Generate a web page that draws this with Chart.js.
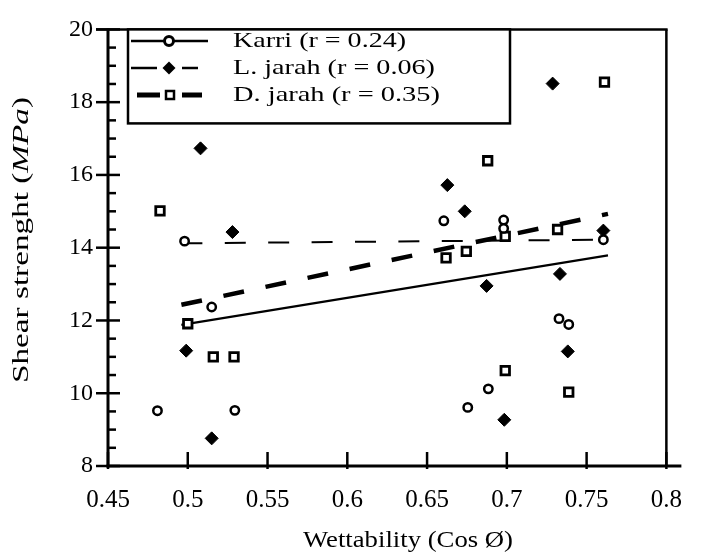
<!DOCTYPE html>
<html>
<head>
<meta charset="utf-8">
<script src="https://cdn.jsdelivr.net/npm/chart.js@4/dist/chart.umd.min.js"></script>
<style>
  html, body { margin: 0; padding: 0; background: #fff; }
  #wrap { width: 701px; height: 558px; position: relative; }
</style>
</head>
<body>
<div id="wrap"><canvas id="c" width="701" height="558"></canvas></div>
<script>
// ---- data ----
const karriX  = [0.481, 0.498, 0.515, 0.5295, 0.6605, 0.6755, 0.6884, 0.698, 0.698, 0.7327, 0.7388, 0.7605];
const karriY  = [9.52, 14.18, 12.37, 9.53, 14.74, 9.61, 10.12, 14.76, 14.53, 12.05, 11.89, 14.22];

const lJarahX = [0.499, 0.508, 0.515, 0.528, 0.6627, 0.6736, 0.6873, 0.6984, 0.7287, 0.7333, 0.7382, 0.7605];
const lJarahY = [11.17, 16.73, 8.76, 14.43, 15.72, 15.0, 12.95, 9.27, 18.51, 13.28, 11.15, 14.47];

const dJarahX = [0.4826, 0.5, 0.516, 0.529, 0.6619, 0.6746, 0.688, 0.699, 0.699, 0.7318, 0.7388, 0.7612];
const dJarahY = [15.01, 11.91, 11.0, 11.0, 13.72, 13.9, 16.39, 10.62, 14.31, 14.5, 10.03, 18.55];

// regression lines (end points)
const fitX       = [0.496, 0.7634];
const karriFitY  = [11.88, 13.79];
const lJarahFitY = [14.12, 14.22];
const dJarahFitY = [12.43, 14.93];

const seriesNames = ['Karri (r = 0.24)', 'L. jarah (r = 0.06)', 'D. jarah (r = 0.35)'];

const xTicks      = [0.45, 0.5, 0.55, 0.6, 0.65, 0.7, 0.75, 0.8];
const xTickLabels = ['0.45', '0.5', '0.55', '0.6', '0.65', '0.7', '0.75', '0.8'];
const yTicks      = [8, 10, 12, 14, 16, 18, 20];
const yTickLabels = ['8', '10', '12', '14', '16', '18', '20'];
const yMinorStep  = 0.5;

const xTitle = 'Wettability (Cos Ø)';
const yTitleParts = ['Shear strenght (', 'MPa', ')'];

// ---- helpers ----
const zip = (xs, ys) => xs.map((x, i) => ({ x: x, y: ys[i] }));
const FONT = '"Liberation Serif", "Times New Roman", serif';

function drawFitted(ctx, parts, targetW, align) {
  // parts: [{t, f}] ; draws at current origin, baseline middle, horizontally scaled to targetW
  let natural = 0;
  parts.forEach(p => { ctx.font = p.f; natural += ctx.measureText(p.t).width; });
  const s = targetW / natural;
  ctx.save();
  ctx.scale(s, 1);
  let x = align === 'center' ? -natural / 2 : 0;
  ctx.textBaseline = 'middle';
  ctx.textAlign = 'left';
  parts.forEach(p => { ctx.font = p.f; ctx.fillText(p.t, x, 0); x += ctx.measureText(p.t).width; });
  ctx.restore();
}

function seg(ctx, x1, y1, x2, y2) { ctx.beginPath(); ctx.moveTo(x1, y1); ctx.lineTo(x2, y2); ctx.stroke(); }

const decor = {
  id: 'decor',
  afterDraw(chart) {
    const { ctx, chartArea, scales } = chart;
    const { left, right, top, bottom } = chartArea;
    const xs = scales.x, ys = scales.y;
    ctx.save();
    ctx.strokeStyle = '#000';
    ctx.fillStyle = '#000';
    ctx.lineCap = 'butt';

    // axes
    ctx.lineWidth = 3;
    seg(ctx, left, top - 1, left, bottom + 1.5);
    seg(ctx, left - 1.5, bottom, right + 15, bottom);
    // frame (top + right)
    ctx.lineWidth = 2.5;
    seg(ctx, left - 12, top, right + 1.25, top);
    seg(ctx, right, top, right, bottom);

    // y major ticks (crossing)
    ctx.lineWidth = 2.5;
    yTicks.forEach(v => { const py = ys.getPixelForValue(v); seg(ctx, left - 12, py, left + 12, py); });
    // y minor ticks (inside)
    for (let i = 0; i < yTicks.length - 1; i++) {
      for (let v = yTicks[i] + yMinorStep; v < yTicks[i + 1] - 1e-9; v += yMinorStep) {
        const py = ys.getPixelForValue(v);
        seg(ctx, left, py, left + 8, py);
      }
    }
    // x major ticks
    xTicks.forEach(v => { const px = xs.getPixelForValue(v); seg(ctx, px, bottom - 14, px, bottom + 3); });

    // axis titles
    ctx.save();
    ctx.translate(408, 541);
    drawFitted(ctx, [{ t: xTitle, f: '23px ' + FONT }], 210, 'center');
    ctx.restore();

    ctx.save();
    ctx.translate(22, 240);
    ctx.rotate(-Math.PI / 2);
    drawFitted(ctx, [
      { t: yTitleParts[0], f: '24px ' + FONT },
      { t: yTitleParts[1], f: 'italic 24px ' + FONT },
      { t: yTitleParts[2], f: '24px ' + FONT }
    ], 286, 'center');
    ctx.restore();

    // legend box
    const bx = 128, by = top, bw = 382, bh = 94;
    ctx.fillStyle = '#fff';
    ctx.fillRect(bx, by, bw, bh);
    ctx.fillStyle = '#000';
    ctx.lineWidth = 2.5;
    ctx.strokeRect(bx, by, bw, bh);

    const rows = [41, 68, 95];
    // Karri row
    ctx.lineWidth = 2.5;
    seg(ctx, 131, rows[0], 208, rows[0]);
    ctx.beginPath(); ctx.arc(169, rows[0], 4.5, 0, Math.PI * 2);
    ctx.fillStyle = '#fff'; ctx.fill(); ctx.lineWidth = 3; ctx.stroke(); ctx.fillStyle = '#000';
    // L. jarah row
    ctx.lineWidth = 2.5;
    seg(ctx, 131, rows[1], 157, rows[1]);
    seg(ctx, 182, rows[1], 198, rows[1]);
    ctx.beginPath();
    ctx.moveTo(169, rows[1] - 6.5); ctx.lineTo(175.5, rows[1]); ctx.lineTo(169, rows[1] + 6.5); ctx.lineTo(162.5, rows[1]);
    ctx.closePath(); ctx.fill();
    // D. jarah row
    ctx.lineWidth = 5;
    seg(ctx, 137, rows[2], 160, rows[2]);
    seg(ctx, 182, rows[2], 202, rows[2]);
    ctx.lineWidth = 2.5;
    ctx.fillStyle = '#fff';
    ctx.fillRect(166, rows[2] - 4, 8, 8);
    ctx.strokeRect(166, rows[2] - 4, 8, 8);
    ctx.fillStyle = '#000';

    const legendW = [173, 202, 207];
    seriesNames.forEach((n, i) => {
      ctx.save();
      ctx.translate(233, rows[i]);
      drawFitted(ctx, [{ t: n, f: '22px ' + FONT }], legendW[i], 'left');
      ctx.restore();
    });

    ctx.restore();
  }
};

const ptCommon = { showLine: false, borderColor: '#000', order: 0 };

new Chart(document.getElementById('c'), {
  type: 'scatter',
  data: {
    datasets: [
      Object.assign({ label: seriesNames[0], data: zip(karriX, karriY), pointStyle: 'circle',
        pointRadius: 4.2, pointBorderWidth: 2.5, pointBackgroundColor: '#fff', pointBorderColor: '#000' }, ptCommon),
      Object.assign({ label: seriesNames[1], data: zip(lJarahX, lJarahY), pointStyle: 'rectRot',
        pointRadius: 6.5, pointBorderWidth: 1, pointBackgroundColor: '#000', pointBorderColor: '#000' }, ptCommon),
      Object.assign({ label: seriesNames[2], data: zip(dJarahX, dJarahY), pointStyle: 'rect',
        pointRadius: 6, pointBorderWidth: 2.8, pointBackgroundColor: '#fff', pointBorderColor: '#000' }, ptCommon),
      { label: 'Karri fit', data: zip(fitX, karriFitY), showLine: true, pointRadius: 0,
        borderColor: '#000', borderWidth: 2.2, order: 1 },
      { label: 'L. jarah fit', data: zip(fitX, lJarahFitY), showLine: true, pointRadius: 0,
        borderColor: '#000', borderWidth: 2, borderDash: [21, 22.4], order: 1 },
      { label: 'D. jarah fit', data: zip(fitX, dJarahFitY), showLine: true, pointRadius: 0,
        borderColor: '#000', borderWidth: 4.5, borderDash: [21, 22], order: 1 }
    ]
  },
  options: {
    responsive: true,
    maintainAspectRatio: false,
    animation: false,
    devicePixelRatio: 1,
    layout: { padding: { top: 18, right: 19, left: 0, bottom: 0 } },
    plugins: { legend: { display: false }, tooltip: { enabled: false } },
    scales: {
      x: {
        type: 'linear', min: 0.45, max: 0.8,
        afterBuildTicks: s => { s.ticks = xTicks.map(v => ({ value: v })); },
        afterFit: s => { s.height = 92; },
        grid: { display: false, drawTicks: false },
        border: { display: false },
        ticks: { padding: 19, color: '#000', font: { family: FONT, size: 25 },
          maxRotation: 0, autoSkip: false,
          callback: (v, i) => xTickLabels[i] }
      },
      y: {
        type: 'linear', min: 8, max: 20,
        afterBuildTicks: s => { s.ticks = yTicks.map(v => ({ value: v })); },
        afterFit: s => { s.width = 108; },
        grid: { display: false, drawTicks: false },
        border: { display: false },
        ticks: { padding: 15, color: '#000', font: { family: FONT, size: 24 },
          autoSkip: false,
          callback: (v, i) => yTickLabels[i] }
      }
    }
  },
  plugins: [decor]
});
</script>
</body>
</html>
